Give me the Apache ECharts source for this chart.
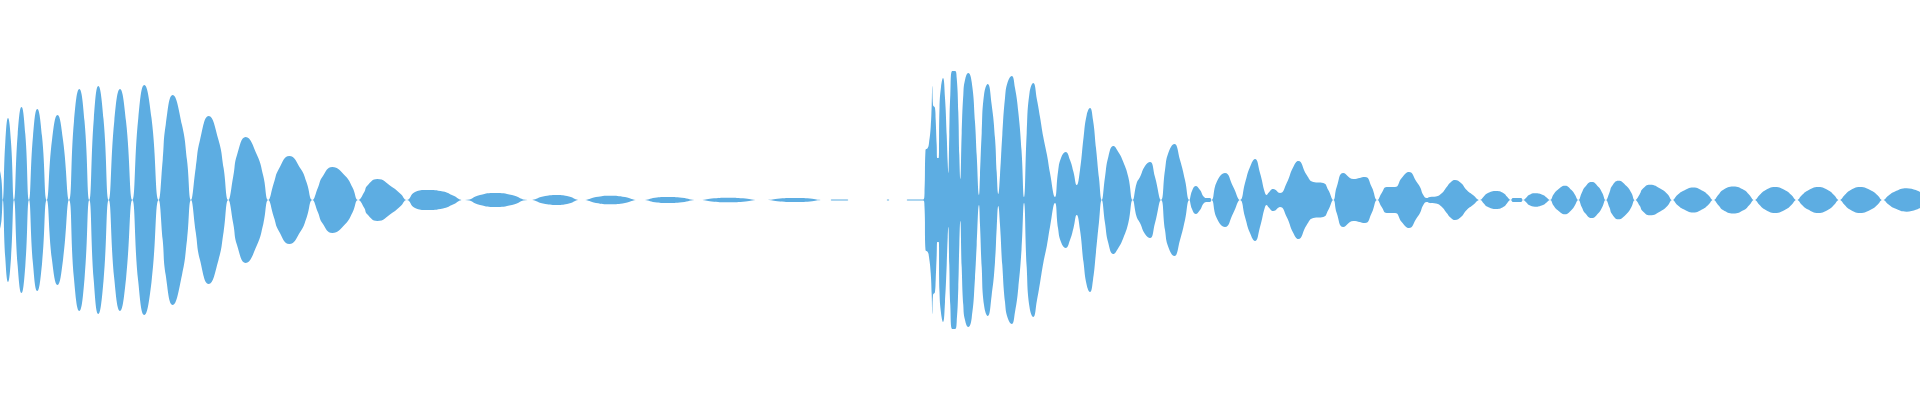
<!DOCTYPE html>
<html>
<head>
<meta charset="utf-8">
<script src="https://cdn.jsdelivr.net/npm/echarts@6/dist/echarts.min.js"></script>
<style>html,body{margin:0;padding:0;background:#fff}#c{width:1920px;height:400px}</style>
</head>
<body>
<div id="c"></div>
<script>
// Waveform envelope: [time position, amplitude]
const decayHead = [
  [0,29],[1.5,20],[2.7,0],
  [5.3,58],[8,82],[11,58],[14,0],
  [17.7,66],[21.5,93],[25.3,66],[29,0],
  [33,64],[37.3,91],[42,64],[46.7,0],
  [52,60],[57.5,85],[63,60],[69,0],
  [74,79],[79.3,111],[84.5,79],[89.3,0],
  [93.8,81],[98.3,114],[103.5,81],[108.7,0],
  [114.3,79],[120,111],[126,79],[132.3,0],
  [138.3,82],[144.3,115],[151.5,82],[158.7,0]
];
const decayBody = [
  [162.7,40],[165.7,75],[172.7,105],[182,75],[187,40],[191,0],
  [195.7,32],[200,60],[208.7,84],[218.5,60],[223.6,32],[228.3,0],
  [233.3,24],[237,45],[245.7,63],[257,45],[263.3,24],[268.3,0],
  [273.8,17],[278.8,31],[289.3,44],[300.8,31],[306.8,17],[312.3,0],
  [318,12.5],[322.3,23],[332.3,33],[345.3,24],[352.5,12.5],[358.3,0],
  [364.3,8],[367,14],[377.3,21],[392,13],[400.7,6],[406.7,0],
  [415,8],[427,10],[443,8.5],[453,4.5],[463.3,0],
  [465,0],[480,5],[495,7],[512,5],[528,0],
  [530,0],[543,3.5],[557,5],[569,3.5],[580,0],
  [583,0],[596,3],[610,4.3],[625,3],[638,0],
  [643,0],[655,2.2],[667,3],[682,2.2],[697,0]
];
const quietGap = [
  [700,0],[714,1.7],[728,2.3],[743,1.7],[758,0],
  [765,0],[780,1.5],[795,2],[810,1.5],[823,0],
  [830,0],[832,0.6],[847,0.6],[849,0],
  [886,0],[888,0.6],[890,0],
  [906,0],[908,0.6],[923.3,0.6]
];
const burst = [
  [924.5,6.7],[925.5,50],[927.7,52],[929,57],[930.7,73],[931.7,95],[932.3,114],[933,95],
  [935,92],[935.7,80],[936.7,55],[937.3,42],[938.7,42],[939.5,92],[941,113],[943,122],
  [945,102],[946.7,65],[947.7,37],[948.3,27],[949.3,65],[950.3,105],[952.3,129],[955,129],
  [956.7,122],[958.3,88],[959.3,45],[960.3,21],[961.7,67],[963.3,105],[965,120],[968.3,127],
  [971.7,118],[975,78],[976.7,45],[979,5],[980,25],[981.7,67],[984,105],[987.7,116],
  [991.7,95],[995,62],[996.7,28],[998.3,6],[1000,25],[1002.3,65],[1005,102],[1007.7,118],
  [1011.7,124],[1015,112],[1018.3,88],[1021.5,50],[1024,3],
  [1026.7,67],[1029.5,107],[1033.3,117],[1037,100],[1040,83],[1043.3,63],[1047,45],[1050,27],[1055,3],
  [1058,28],[1061,42],[1065.7,48],[1070,40],[1073.5,28],[1076.7,15],
  [1080,30],[1083.5,62],[1086.7,85],[1090,92],[1093,80],[1096,52],[1099,22],[1101.7,0]
];
const tailMid = [
  [1105,23],[1108.3,43],[1113.3,54],[1118.3,48],[1123.3,38],[1128.3,23],[1132.7,0],
  [1136.7,17],[1140,23],[1145,34],[1150,38],[1155,23],[1161,0],
  [1165,30],[1168.3,47],[1174.3,56],[1180,40],[1185,20],[1189.3,0],
  [1192,9],[1195.7,14],[1200,10],[1204,3],[1207,2],[1210,2],[1211.5,0],
  [1216.7,18],[1225,27],[1233.3,13],[1240,0],
  [1245,17],[1250,33],[1255,41],[1260,27],[1265,7],[1266.7,5],
  [1268.3,7],[1273.3,11],[1280,7],[1286.7,17],[1293.3,33],[1298.3,39],[1306.7,25],
  [1313.3,18],[1323.3,17],[1328.3,10],[1333.3,0],
  [1336.7,13],[1343.3,27],[1353.3,21],[1365,23],[1371.7,13],[1377.3,0],
  [1381.7,7],[1386.7,13],[1395,13],[1401.7,22],[1409,28],[1416.7,18],[1420,13],[1423.3,5],[1426.7,2],
  [1430,3],[1436,3.5],[1441.7,6.7]
];
const tailEnd = [
  [1446.7,13],[1451,18],[1455,20],[1461,17],[1466.7,10],[1473,5],[1480,0],
  [1483.8,3.4],[1487,6.5],[1496.7,9],[1504,6.5],[1506.9,3.4],[1510.7,0],
  [1513,2],[1521,2],[1523,0],
  [1526.4,2.5],[1529,5],[1535,6.7],[1543,5],[1546.6,2.5],[1550,0],
  [1553.5,5.5],[1557.5,10],[1565,14.3],[1571.5,10],[1574.8,5.5],[1578.3,0],
  [1581.7,7],[1585,13],[1591.7,18],[1598.5,13],[1602.3,7],[1605.7,0],
  [1609.4,7.3],[1612,14],[1618.3,19.3],[1626.5,14],[1631.3,7.3],[1635,0],
  [1639.7,5.8],[1642.5,11],[1650,15.3],[1661,11],[1667.6,5.8],[1672.3,0],
  [1677.4,5],[1683,9],[1693.3,12.5],[1703,9],[1708.2,5],[1713.3,0],
  [1718.4,5.3],[1723,10],[1733.3,13.5],[1744,10],[1749.2,5.3],[1754.3,0],
  [1759.6,5],[1764.5,9.3],[1775,13],[1786,9.3],[1791.4,5],[1796.7,0],
  [1802,5],[1807.5,9.3],[1818.3,13],[1829,9.3],[1834,5],[1839.3,0],
  [1844.7,5],[1849.5,9.3],[1860,13],[1871.5,9.3],[1877.3,5],[1882.7,0],
  [1888.6,4.5],[1894.5,8.3],[1906.7,11.7],[1920,8]
];

const envelope = [].concat(decayHead, decayBody, quietGap, burst, tailMid, tailEnd);
const upper = envelope.map(p => [p[0], p[1]]);
const lower = envelope.map(p => [p[0], -p[1]]);

const color = '#5dade2';
const chart = echarts.init(document.getElementById('c'), null, {renderer: 'canvas'});
const mk = (name, data) => ({
  name, type: 'line', data, smooth: 0.5, showSymbol: false, symbol: 'none',
  lineStyle: {width: 0, color}, areaStyle: {color, opacity: 1}, itemStyle: {color},
  silent: true
});
chart.setOption({
  animation: false,
  backgroundColor: '#ffffff',
  grid: {left: 0, right: 0, top: 0, bottom: 0},
  xAxis: {type: 'value', min: 0, max: 1920, show: false},
  yAxis: {type: 'value', min: -200, max: 200, show: false},
  series: [mk('upper', upper), mk('lower', lower)]
});
</script>
</body>
</html>
